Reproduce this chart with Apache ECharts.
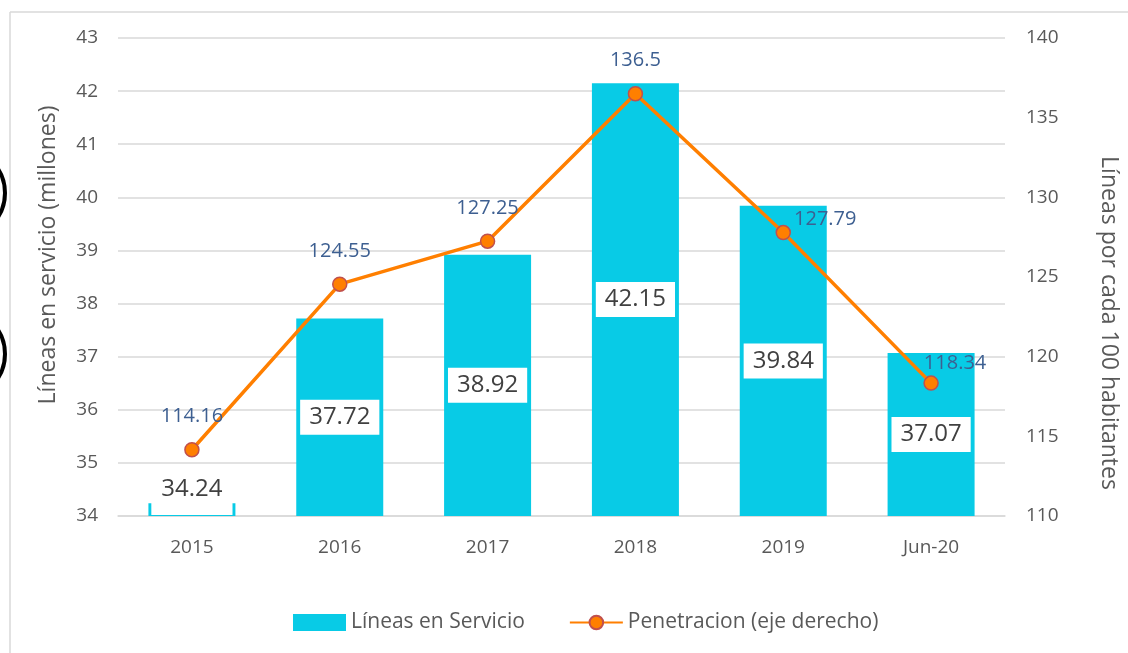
<!DOCTYPE html>
<html>
<head>
<meta charset="utf-8">
<script src="https://cdn.jsdelivr.net/npm/echarts@6/dist/echarts.min.js"></script>
<style>html,body{margin:0;padding:0;background:#fff}#c{width:1128px;height:653px}</style>
</head>
<body>
<div id="c"></div>
<script>
const categories = ['2015', '2016', '2017', '2018', '2019', 'Jun-20'];
const lineasServicio = [34.24, 37.72, 38.92, 42.15, 39.84, 37.07];
const penetracion = [114.16, 124.55, 127.25, 136.5, 127.79, 118.34];
const leftTicks = { min: 34, max: 43, interval: 1 };
const rightTicks = { min: 110, max: 140, interval: 5 };
const penOffsets = [[0, -33], [0, -33], [0, -33], [0, -33], [42, -13], [24, -20]];

const FONT = '"Open Sans", "Noto Sans", sans-serif';
const chart = echarts.init(document.getElementById('c'), null, { renderer: 'canvas' });

chart.setOption({
  animation: false,
  textStyle: { fontFamily: FONT },
  grid: { left: 118, right: 122, top: 38, bottom: 137 },
  graphic: [
    { type: 'line', shape: { x1: 10, y1: 12, x2: 1128, y2: 12 }, style: { stroke: '#D9D9D9', lineWidth: 1.5 } },
    { type: 'line', shape: { x1: 10, y1: 12, x2: 10, y2: 653 }, style: { stroke: '#D9D9D9', lineWidth: 1.5 } },
    { type: 'circle', shape: { cx: -40, cy: 193, r: 45 }, style: { fill: 'none', stroke: '#000', lineWidth: 4 } },
    { type: 'circle', shape: { cx: -40, cy: 354, r: 45 }, style: { fill: 'none', stroke: '#000', lineWidth: 4 } }
  ],
  legend: {
    bottom: 15,
    left: 288,
    itemGap: 44,
    itemWidth: 53,
    itemHeight: 17,
    textStyle: { fontSize: 21, color: '#595959', fontFamily: FONT },
    data: [
      { name: 'Líneas en Servicio', icon: 'rect' },
      { name: 'Penetracion (eje derecho)' }
    ]
  },
  xAxis: {
    type: 'category',
    data: categories,
    axisLine: { show: true, lineStyle: { color: '#D9D9D9', width: 1.5 } },
    axisTick: { show: false },
    axisLabel: { fontSize: 19, color: '#595959', margin: 22, fontFamily: FONT }
  },
  yAxis: [
    {
      type: 'value',
      min: leftTicks.min, max: leftTicks.max, interval: leftTicks.interval,
      name: 'Líneas en servicio (millones)',
      nameLocation: 'middle',
      nameGap: 58,
      nameRotate: 90,
      nameTextStyle: { fontSize: 23, color: '#595959', fontFamily: FONT, padding: [0, 0, 0, 44] },
      axisLine: { show: false },
      axisTick: { show: false },
      axisLabel: { fontSize: 19, color: '#595959', margin: 20, fontFamily: FONT },
      splitLine: { lineStyle: { color: '#D9D9D9', width: 1.5 } }
    },
    {
      type: 'value',
      position: 'right',
      min: rightTicks.min, max: rightTicks.max, interval: rightTicks.interval,
      name: 'Líneas por cada 100 habitantes',
      nameLocation: 'middle',
      nameGap: 92,
      nameRotate: -90,
      nameTextStyle: { fontSize: 23, color: '#595959', fontFamily: FONT, padding: [0, 0, 0, 92] },
      axisLine: { show: false },
      axisTick: { show: false },
      axisLabel: { fontSize: 19, color: '#595959', margin: 21, fontFamily: FONT },
      splitLine: { show: false }
    }
  ],
  series: [
    {
      name: 'Líneas en Servicio',
      type: 'bar',
      yAxisIndex: 0,
      barWidth: 87,
      itemStyle: { color: '#08CBE6' },
      data: lineasServicio.map((v, i) => ({
        value: v,
        label: i === 0 ? { position: 'insideBottom', distance: 1, padding: [6, 10, 14, 10] } : undefined
      })),
      label: {
        show: true,
        position: 'inside',
        fontSize: 24,
        color: '#404040',
        fontFamily: FONT,
        backgroundColor: '#FFFFFF',
        padding: [6, 9, 5, 9]
      },
      z: 2
    },
    {
      name: 'Penetracion (eje derecho)',
      type: 'line',
      yAxisIndex: 1,
      symbol: 'circle',
      symbolSize: 14,
      lineStyle: { color: '#FF7F00', width: 3.5 },
      itemStyle: { color: '#FF7F00', borderColor: '#C0504D', borderWidth: 1.5 },
      data: penetracion.map((v, i) => ({
        value: v,
        label: { offset: penOffsets[i] }
      })),
      label: {
        show: true,
        position: 'inside',
        fontSize: 20,
        color: '#3D5F91',
        fontFamily: FONT
      },
      z: 3
    }
  ]
});
</script>
</body>
</html>
